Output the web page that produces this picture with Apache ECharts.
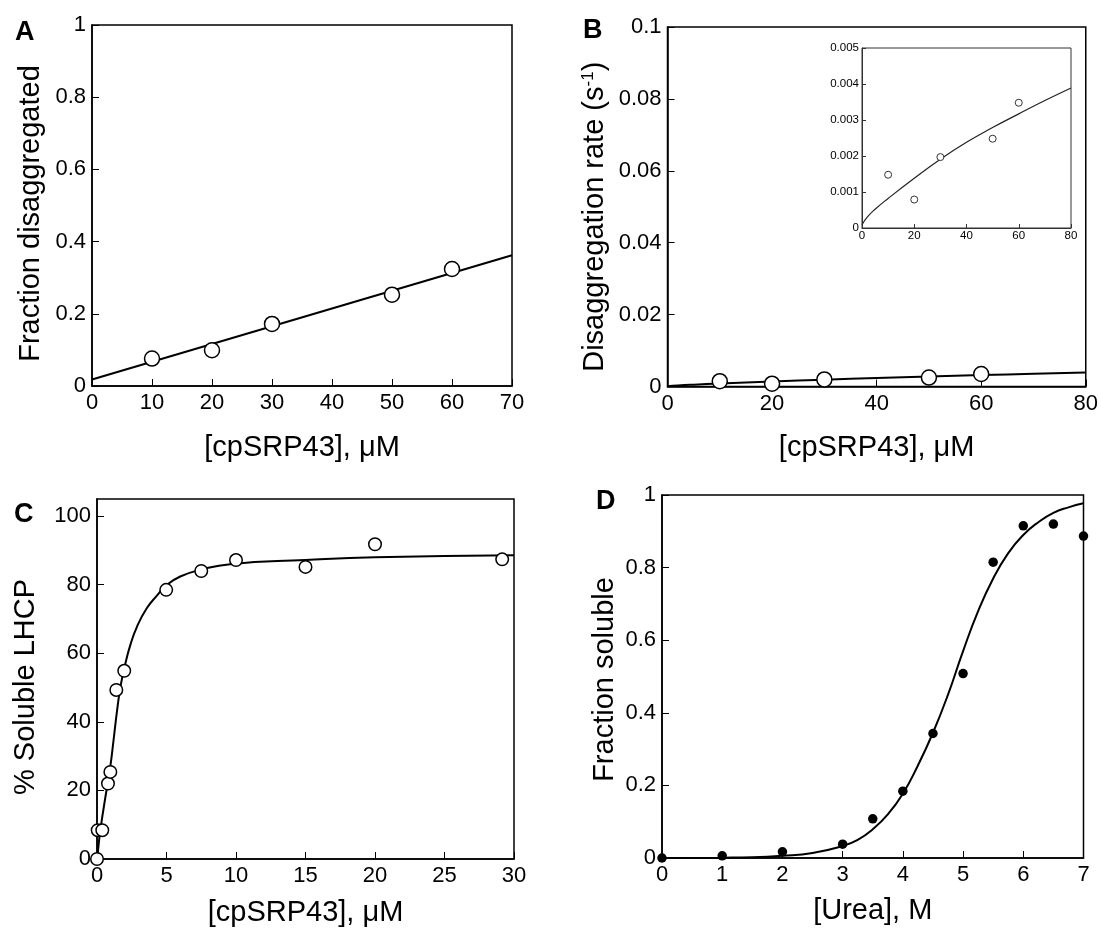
<!DOCTYPE html>
<html>
<head>
<meta charset="utf-8">
<script src="https://cdn.jsdelivr.net/npm/echarts@6/dist/echarts.min.js"></script>
<style>html,body{margin:0;padding:0;background:#fff}#c{width:1101px;height:928px}</style>
</head>
<body>
<div id="c"></div>
<script>
// Panel A
const aX = [10, 20, 30, 50, 60];
const aY = [0.076, 0.099, 0.172, 0.253, 0.324];
const aFitX = [0, 70];
const aFitY = [0.018, 0.362];
// Panel B (main and inset share the same data)
const bX = [10, 20, 30, 50, 60];
const bY = [0.00148, 0.00079, 0.00197, 0.00248, 0.00348];
const bFitX = [0, 2, 5, 10, 20, 30, 40, 50, 60, 70, 80];
const bFitY = [0.00009, 0.0003, 0.00052, 0.00082, 0.00138, 0.00191, 0.00238, 0.00279, 0.00317, 0.00354, 0.00389];
// Panel C
const cX = [0, 0.05, 0.38, 0.79, 0.96, 1.39, 1.96, 4.98, 7.5, 10, 15, 20, 29.15];
const cY = [0, 8.4, 8.4, 22.0, 25.4, 49.3, 54.9, 78.5, 84.0, 87.2, 85.2, 91.8, 87.4];
const cFitX = [0, 0.05, 0.24, 0.72, 0.96, 1.2, 1.45, 1.7, 2.03, 2.39, 2.88, 3.59, 4.31, 4.98, 5.99, 7.5, 9.58, 15, 20, 30];
const cFitY = [0, 1.6, 8.4, 21.0, 27.0, 35.0, 43.5, 50.5, 56.8, 62.3, 67.8, 73.2, 76.8, 79.8, 82.4, 84.4, 86.0, 87.2, 88.0, 88.6];
// Panel D
const dX = [0, 1, 2, 3, 3.5, 4, 4.5, 5, 5.5, 6, 6.5, 7];
const dY = [0, 0.006, 0.017, 0.038, 0.108, 0.184, 0.343, 0.508, 0.815, 0.915, 0.92, 0.887];
const dFitX = [0, 1, 1.5, 2, 2.5, 3, 3.25, 3.5, 3.75, 4, 4.25, 4.5, 4.75, 5, 5.25, 5.5, 5.75, 6, 6.25, 6.5, 6.75, 7];
const dFitY = [0, 0.001, 0.002, 0.006, 0.014, 0.033, 0.05, 0.079, 0.12, 0.177, 0.255, 0.345, 0.45, 0.57, 0.68, 0.77, 0.84, 0.89, 0.925, 0.951, 0.966, 0.977];

const FONT = "'Liberation Sans', Arial, Helvetica, sans-serif";
const zip = (xs, ys) => xs.map((x, i) => [x, ys[i]]);

function axis(gi, min, max, interval, o) {
  o = o || {};
  const small = !!o.small;
  return {
    type: 'value', gridIndex: gi, min: min, max: max, interval: interval,
    name: o.name || '', nameLocation: 'middle', nameGap: o.nameGap || 0,
    nameRotate: o.rot || 0,
    nameTextStyle: Object.assign({fontSize: 29, color: '#000', fontFamily: FONT}, o.nts || {}),
    axisLine: {show: true, onZero: false, lineStyle: {color: small ? '#333' : '#000', width: small ? 1 : 1.5}},
    axisTick: {show: true, inside: true, length: small ? 4 : 7, lineStyle: {color: small ? '#333' : '#000', width: 1}},
    axisLabel: {color: '#000', fontSize: small ? 11.5 : 22, fontFamily: FONT, margin: o.margin != null ? o.margin : 6,
      showMaxLabel: o.hideMax ? false : true},
    splitLine: {show: false}
  };
}

const lineS = (gi, xs, ys, small) => ({
  type: 'line', xAxisIndex: gi, yAxisIndex: gi, data: zip(xs, ys), showSymbol: false,
  smooth: 0.5, silent: true, z: 2,
  lineStyle: {color: small ? '#222' : '#000', width: small ? 1.2 : 2}
});
const scatS = (gi, xs, ys, size, filled, small) => ({
  type: 'scatter', xAxisIndex: gi, yAxisIndex: gi, data: zip(xs, ys), symbol: 'circle',
  symbolSize: size, clip: false, z: 3, silent: true,
  itemStyle: filled ? {color: '#000', borderWidth: 0, opacity: 1}
                    : {color: '#fff', borderColor: small ? '#333' : '#000', borderWidth: small ? 1 : 1.5, opacity: 1}
});

const gridStyle = {show: true, borderColor: '#000', borderWidth: 1.5, backgroundColor: 'transparent'};

const option = {
  backgroundColor: '#fff',
  animation: false,
  grid: [
    Object.assign({left: 92, top: 25, width: 420, height: 361}, gridStyle),
    Object.assign({left: 667.5, top: 27, width: 419, height: 359.5}, gridStyle),
    {show: true, borderColor: '#333', borderWidth: 1, left: 862, top: 48, width: 209, height: 180, z: 5},
    Object.assign({left: 97, top: 499, width: 417, height: 360}, gridStyle),
    Object.assign({left: 662, top: 495, width: 421.5, height: 363}, gridStyle)
  ],
  xAxis: [
    axis(0, 0, 70, 10, {name: '[cpSRP43], μM', nameGap: 47}),
    axis(1, 0, 80, 20, {name: '[cpSRP43], μM', nameGap: 47}),
    axis(2, 0, 80, 20, {small: true, margin: 2}),
    axis(3, 0, 30, 5, {name: '[cpSRP43], μM', nameGap: 39}),
    axis(4, 0, 7, 1, {name: '[Urea], M', nameGap: 38})
  ],
  yAxis: [
    axis(0, 0, 1, 0.2, {name: 'Fraction disaggregated', nameGap: 47, rot: 90, nts: {padding: [0, 16, 0, 0]}}),
    axis(1, 0, 0.1, 0.02, {name: 'Disaggregation rate (s{sup|-1})', nameGap: 58, rot: 90,
      nts: {padding: [0, 20, 0, 0], rich: {sup: {fontSize: 17, verticalAlign: 'top', color: '#000', fontFamily: FONT, lineHeight: 30}}}}),
    axis(2, 0, 0.005, 0.001, {small: true, margin: 3}),
    axis(3, 0, 105, 20, {name: '% Soluble LHCP', nameGap: 57, rot: 90, hideMax: true, nts: {padding: [0, 16, 0, 0]}}),
    axis(4, 0, 1, 0.2, {name: 'Fraction soluble', nameGap: 43, rot: 90, nts: {padding: [0, 6, 0, 0]}})
  ],
  series: [
    lineS(0, aFitX, aFitY), scatS(0, aX, aY, 15),
    lineS(1, bFitX, bFitY), scatS(1, bX, bY, 15),
    lineS(2, bFitX, bFitY, true), scatS(2, bX, bY, 7, false, true),
    lineS(3, cFitX, cFitY), scatS(3, cX, cY, 12.5),
    lineS(4, dFitX, dFitY), scatS(4, dX, dY, 9.5, true)
  ],
  graphic: [
    {type: 'text', left: 15, top: 19, style: {text: 'A', font: 'bold 27px ' + FONT, fill: '#000'}},
    {type: 'text', left: 583, top: 17, style: {text: 'B', font: 'bold 27px ' + FONT, fill: '#000'}},
    {type: 'text', left: 14, top: 501, style: {text: 'C', font: 'bold 27px ' + FONT, fill: '#000'}},
    {type: 'text', left: 596, top: 488, style: {text: 'D', font: 'bold 27px ' + FONT, fill: '#000'}}
  ]
};

const chart = echarts.init(document.getElementById('c'), null, {renderer: 'canvas'});
chart.setOption(option);
</script>
</body>
</html>
